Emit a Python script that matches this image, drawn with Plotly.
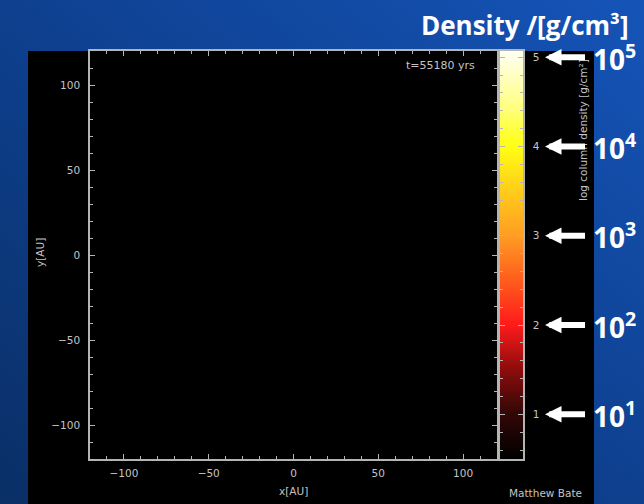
import base64
import numpy as np
import plotly.graph_objects as go

W, H = 644, 504

# Projected region (AU)
x_range = [-120, 120]
y_range = [-120, 120]
axis_dtick = 50
axis_minor = 10

# log10 column density colour scale
cbar_range = [0.5, 5.07]
cbar_ticks = [1, 2, 3, 4, 5]
cbar_minor = 0.2
density_exponents = [5, 4, 3, 2, 1]

time_label = "t=55180 yrs"
credit = "Matthew Bate"
cbar_title = "log column density [g/cm²]"
headline = "Density /[g/cm³]"

GREY = "#c4c4c4"
AXIS = "#b4b4b4"
TXT_FONT = "DejaVu Sans"


def px(x):
    return x / W


def py(y):
    return 1 - y / H


# value -> colour stops for the density map
stops = [
    (0.50, "#000000"),
    (1.00, "#320707"),
    (1.50, "#8c0c0c"),
    (2.00, "#ff1a1a"),
    (2.50, "#ff5c1c"),
    (3.00, "#ff9c24"),
    (3.50, "#ffcc1a"),
    (4.00, "#ffff12"),
    (4.50, "#ffff8c"),
    (5.07, "#fffff4"),
]
lo, hi = cbar_range
colorscale = [[(v - lo) / (hi - lo), c] for v, c in stops]

# background gradient
svg = (
    '<svg xmlns="http://www.w3.org/2000/svg" width="644" height="504" '
    'preserveAspectRatio="none">'
    '<defs><linearGradient id="g" x1="0" y1="1" x2="1" y2="0">'
    '<stop offset="0" stop-color="#0a2f66"/>'
    '<stop offset="0.5" stop-color="#0e408f"/>'
    '<stop offset="1" stop-color="#1554b8"/>'
    '</linearGradient></defs>'
    '<rect width="644" height="504" fill="url(#g)"/></svg>'
)
bg_uri = "data:image/svg+xml;base64," + base64.b64encode(svg.encode()).decode()

fig = go.Figure()

# empty projection panel (all values below the scale)
fig.add_trace(go.Scatter(x=[], y=[], xaxis="x", yaxis="y", showlegend=False))

# colour bar drawn as its own strip
levels = np.linspace(lo, hi, 400)
fig.add_trace(
    go.Heatmap(
        z=levels.reshape(-1, 1),
        x=[0],
        y=levels,
        colorscale=colorscale,
        zmin=lo,
        zmax=hi,
        showscale=False,
        hoverinfo="skip",
        xaxis="x2",
        yaxis="y2",
    )
)

tickfont = dict(family=TXT_FONT, size=10.5, color=GREY)
common = dict(
    showline=True,
    linecolor=AXIS,
    linewidth=1.5,
    mirror="ticks",
    ticks="inside",
    ticklen=5,
    tickwidth=1.2,
    tickcolor=AXIS,
    showgrid=False,
    zeroline=False,
    tickfont=tickfont,
)

main_y = [py(459), py(51)]

fig.update_layout(
    width=W,
    height=H,
    margin=dict(l=0, r=0, t=0, b=0),
    paper_bgcolor="#0e408f",
    plot_bgcolor="rgba(0,0,0,0)",
    showlegend=False,
    xaxis=dict(
        domain=[px(90), px(497)],
        range=x_range,
        tick0=0,
        dtick=axis_dtick,
        anchor="y",
        minor=dict(dtick=axis_minor, ticks="inside", ticklen=3, tickcolor=AXIS, tickwidth=1),
        ticklabelstandoff=4,
        **common,
    ),
    yaxis=dict(
        domain=main_y,
        range=y_range,
        tick0=0,
        dtick=axis_dtick,
        anchor="x",
        minor=dict(dtick=axis_minor, ticks="inside", ticklen=3, tickcolor=AXIS, tickwidth=1),
        ticklabelstandoff=6,
        **common,
    ),
    xaxis2=dict(
        domain=[px(500), px(523)],
        range=[-0.5, 0.5],
        anchor="y2",
        showline=True,
        linecolor=AXIS,
        linewidth=1.5,
        mirror=True,
        showticklabels=False,
        ticks="",
        showgrid=False,
        zeroline=False,
    ),
    yaxis2=dict(
        domain=main_y,
        range=cbar_range,
        anchor="x2",
        side="right",
        tickvals=cbar_ticks,
        minor=dict(dtick=cbar_minor, tick0=0, ticks="inside", ticklen=3,
                   tickcolor=AXIS, tickwidth=1),
        ticklabelstandoff=6,
        **common,
    ),
    images=[
        dict(
            source=bg_uri,
            xref="paper",
            yref="paper",
            x=0,
            y=1,
            sizex=1,
            sizey=1,
            xanchor="left",
            yanchor="top",
            sizing="stretch",
            layer="below",
        )
    ],
    shapes=[
        dict(
            type="rect",
            xref="paper",
            yref="paper",
            x0=px(28),
            x1=px(594),
            y0=0,
            y1=py(51),
            fillcolor="#000000",
            line=dict(width=0),
            layer="below",
        )
    ],
)

small = dict(family=TXT_FONT, size=10.5, color=GREY)
ann = [
    dict(text="x[AU]", x=px(293), y=py(491), xref="paper", yref="paper",
         showarrow=False, font=small, xanchor="center", yanchor="middle"),
    dict(text="y[AU]", x=px(40), y=py(253), xref="paper", yref="paper",
         showarrow=False, font=small, textangle=-90, xanchor="center", yanchor="middle"),
    dict(text=time_label, x=px(477), y=py(66), xref="paper", yref="paper",
         showarrow=False, font=dict(family=TXT_FONT, size=11, color=GREY),
         xanchor="right", yanchor="middle"),
    dict(text=credit, x=px(507), y=py(493), xref="paper", yref="paper",
         showarrow=False, font=small, xanchor="left", yanchor="middle"),
    dict(text=cbar_title, x=px(583), y=py(130), xref="paper", yref="paper",
         showarrow=False, font=small, textangle=-90, xanchor="center", yanchor="middle"),
    dict(text=headline, x=px(631), y=py(25), xref="paper", yref="paper",
         showarrow=False, xanchor="right", yanchor="middle",
         font=dict(family="Open Sans", size=26, color="white", weight="bold")),
]

# decade labels with arrows pointing at the colour scale
for e in density_exponents:
    ann.append(dict(
        text=f"10<sup>{e}</sup>", x=px(545), y=e, xref="paper", yref="y2",
        showarrow=True, ax=69, ay=0, arrowhead=2, arrowsize=0.55,
        arrowwidth=6, arrowcolor="white", standoff=0, startstandoff=7,
        borderpad=0,
        font=dict(family="Open Sans", size=28, color="white", weight="bold"),
    ))

fig.update_layout(annotations=ann)

fig.write_html("out.html")
